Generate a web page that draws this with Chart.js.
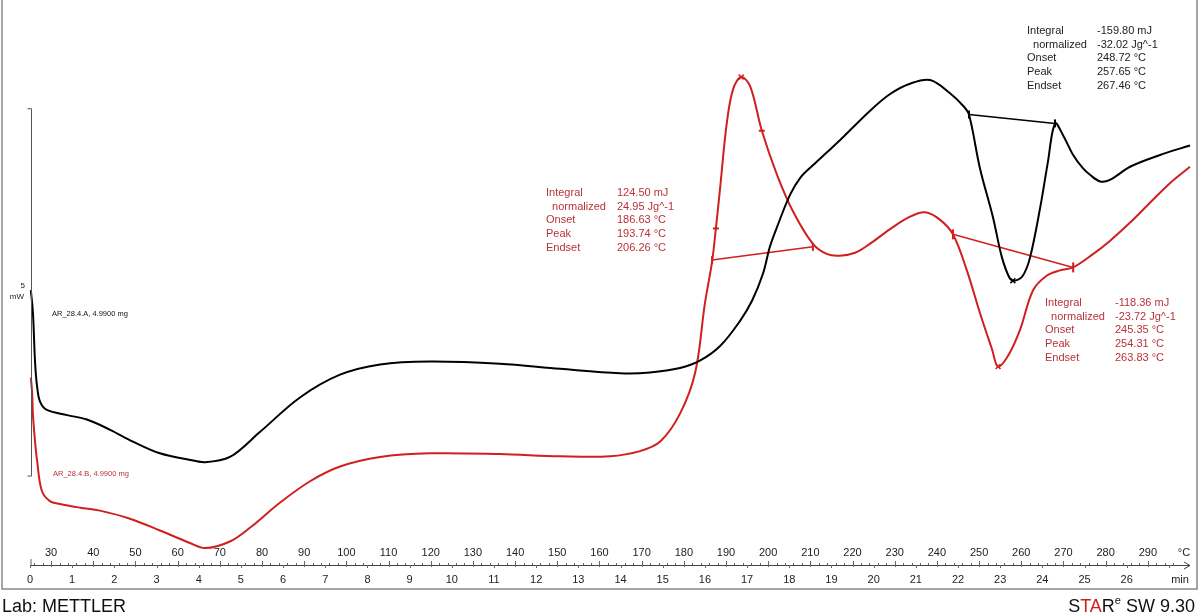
<!DOCTYPE html>
<html>
<head>
<meta charset="utf-8">
<title>DSC AR_28.4</title>
<script src="https://cdn.jsdelivr.net/npm/chart.js@4.4.1/dist/chart.umd.min.js"></script>
<style>
  html, body { margin: 0; padding: 0; background: #fff; }
  canvas { display: block; }
</style>
</head>
<body>
<canvas id="dsc" width="1200" height="616"></canvas>
<script>
// temperature (°C) and heat flow (mW, arbitrary offset)
var blackT = [25.2, 25.7, 26.2, 26.7, 27.4, 29.0, 33.8, 38.5, 44.0, 49.4, 55.8, 62.2, 66.5, 72.4, 79.5, 89.0, 98.5, 108.0, 119.8, 136.4,
  150.7, 164.9, 172.0, 179.1, 183.8, 188.6, 193.3, 196.2, 198.8, 200.4, 202.1, 205.2, 207.6, 210.6, 214.0, 217.0, 224.1, 228.9, 233.6, 238.4,
  243.1, 246.2, 247.6, 250.2, 253.3, 255.4, 257.3, 258.5, 260.4, 262.1, 264.5, 266.3, 268.0, 269.9, 272.3, 274.6, 276.3, 278.7, 281.0, 285.8,
  292.9, 300.0];
var blackMW = [3.74, 3.43, 2.76, 2.42, 2.22, 2.11, 2.04, 1.98, 1.84, 1.68, 1.52, 1.44, 1.40, 1.47, 1.81, 2.28, 2.59, 2.73, 2.77, 2.74,
  2.67, 2.61, 2.62, 2.68, 2.78, 2.98, 3.32, 3.60, 3.97, 4.33, 4.60, 5.04, 5.27, 5.44, 5.62, 5.78, 6.18, 6.41, 6.55, 6.60,
  6.42, 6.25, 6.13, 5.40, 4.73, 4.19, 3.90, 3.87, 3.94, 4.19, 4.87, 5.48, 6.01, 5.85, 5.58, 5.40, 5.31, 5.22, 5.24, 5.42,
  5.58, 5.71];

var redT = [25.2, 25.5, 25.7, 26.2, 26.7, 27.8, 29.7, 32.1, 36.9, 41.6, 48.7, 55.8, 62.9, 66.5, 72.4, 77.2, 84.3, 91.4, 98.5, 108.0,
  119.8, 136.4, 150.7, 162.5, 169.6, 174.4, 179.1, 182.7, 185.0, 186.7, 187.6, 188.6, 190.2, 191.7, 193.6, 195.7, 198.5, 202.1, 205.9, 210.6,
  214.0, 217.0, 220.6, 224.1, 228.9, 233.6, 237.2, 240.7, 243.8, 247.1, 250.2, 253.1, 254.5, 256.9, 259.7, 262.8, 266.1, 269.2, 272.3, 277.0,
  281.0, 285.8, 290.5, 295.3, 300.0];
var redMW = [2.55, 2.35, 2.04, 1.68, 1.41, 1.01, 0.87, 0.83, 0.78, 0.74, 0.63, 0.47, 0.30, 0.23, 0.32, 0.51, 0.85, 1.14, 1.34, 1.47,
  1.52, 1.51, 1.48, 1.48, 1.55, 1.68, 2.06, 2.62, 3.56, 4.13, 4.58, 5.13, 6.02, 6.48, 6.64, 6.52, 5.91, 5.31, 4.81, 4.37,
  4.23, 4.21, 4.25, 4.37, 4.57, 4.74, 4.80, 4.70, 4.50, 4.01, 3.43, 2.93, 2.70, 2.85, 3.20, 3.74, 3.94, 4.01, 4.05, 4.23,
  4.41, 4.66, 4.93, 5.20, 5.42];

// integration baselines (limits) and peak marks
var blackBaseT = [247.6, 268.0], blackBaseMW = [6.13, 6.01];
var redBase1T = [186.7, 210.6], redBase1MW = [4.15, 4.33];
var redBase2T = [243.8, 272.3], redBase2MW = [4.50, 4.05];
var blackPeakT = [258.0], blackPeakMW = [3.87];
var redPeakT = [193.6, 254.5], redPeakMW = [6.64, 2.70];
var redMarkT = [187.6, 198.5], redMarkMW = [4.58, 5.91];

// axis ticks
var tempTicks = [30, 40, 50, 60, 70, 80, 90, 100, 110, 120, 130, 140, 150, 160, 170, 180, 190, 200, 210, 220, 230, 240, 250, 260, 270, 280, 290];
var minTicks = [0, 1, 2, 3, 4, 5, 6, 7, 8, 9, 10, 11, 12, 13, 14, 15, 16, 17, 18, 19, 20, 21, 22, 23, 24, 25, 26];
var startTemp = 25, rate = 10; // °C at 0 min, K/min

// scale bar
var scaleBarTop = 6.21, scaleBarMW = 5;

// result boxes
var resLabels = ['Integral', '  normalized', 'Onset', 'Peak', 'Endset'];
var redRes1 = ['124.50 mJ', '24.95 Jg^-1', '186.63 °C', '193.74 °C', '206.26 °C'];
var redRes2 = ['-118.36 mJ', '-23.72 Jg^-1', '245.35 °C', '254.31 °C', '263.83 °C'];
var blackRes = ['-159.80 mJ', '-32.02 Jg^-1', '248.72 °C', '257.65 °C', '267.46 °C'];

var RED = '#d01f1f', RED_TXT = '#b8323a';

function pts(xs, ys) {
  return xs.map(function (v, i) { return { x: v, y: ys[i] }; });
}

var decor = {
  id: 'decor',
  beforeDraw: function (chart) {
    var ctx = chart.ctx;
    ctx.save();
    ctx.fillStyle = '#fff';
    ctx.fillRect(0, 0, chart.width, chart.height);
    ctx.restore();
  },
  afterDraw: function (chart) {
    var ctx = chart.ctx, sx = chart.scales.x, sy = chart.scales.y;
    var axisY = chart.chartArea.bottom;
    var x0 = sx.getPixelForValue(sx.min), x1 = sx.getPixelForValue(sx.max);
    ctx.save();

    // ruler
    ctx.strokeStyle = '#444';
    ctx.lineWidth = 1;
    ctx.beginPath();
    ctx.moveTo(x0, axisY + 0.5);
    ctx.lineTo(x1, axisY + 0.5);
    ctx.stroke();
    ctx.beginPath();
    ctx.moveTo(x1 - 6, axisY - 3);
    ctx.lineTo(x1, axisY + 0.5);
    ctx.lineTo(x1 - 6, axisY + 4);
    ctx.stroke();
    ctx.strokeStyle = '#666';
    ctx.beginPath();
    for (var t = 26; t < sx.max - 2; t += 2) {
      var px = Math.round(sx.getPixelForValue(t)) + 0.5;
      var up = (t % 10 === 0) ? 4 : 2;
      ctx.moveTo(px, axisY);
      ctx.lineTo(px, axisY - up);
    }
    for (var m = 0; m * rate + startTemp < sx.max - 2; m += 0.5) {
      var pm = Math.round(sx.getPixelForValue(startTemp + m * rate)) + 0.5;
      var dn = (m % 1 === 0) ? 3 : 2;
      ctx.moveTo(pm, axisY);
      ctx.lineTo(pm, axisY + dn);
    }
    ctx.moveTo(x0 + 1, axisY);
    ctx.lineTo(x0 + 1, axisY - 6);
    ctx.stroke();

    ctx.fillStyle = '#222';
    ctx.font = '11px "Liberation Sans", Arial, sans-serif';
    ctx.textAlign = 'center';
    ctx.textBaseline = 'middle';
    tempTicks.forEach(function (v) {
      ctx.fillText(String(v), sx.getPixelForValue(v), axisY - 12);
    });
    minTicks.forEach(function (v) {
      ctx.fillText(String(v), sx.getPixelForValue(startTemp + v * rate), axisY + 15);
    });
    ctx.fillText('°C', 1184, axisY - 12);
    ctx.fillText('min', 1180, axisY + 15);

    // scale bar
    var bx = Math.round(sx.getPixelForValue(sx.min)) + 1.5;
    var bTop = sy.getPixelForValue(scaleBarTop), bBot = sy.getPixelForValue(scaleBarTop - scaleBarMW);
    ctx.strokeStyle = '#555';
    ctx.beginPath();
    ctx.moveTo(bx - 4, bTop);
    ctx.lineTo(bx, bTop);
    ctx.lineTo(bx, bBot);
    ctx.lineTo(bx - 4, bBot);
    ctx.stroke();
    ctx.font = '8px "Liberation Sans", Arial, sans-serif';
    ctx.textAlign = 'right';
    ctx.fillStyle = '#222';
    ctx.fillText(String(scaleBarMW), 25, (bTop + bBot) / 2 - 7);
    ctx.fillText('mW', 24, (bTop + bBot) / 2 + 4);

    // sample names
    ctx.textAlign = 'left';
    ctx.font = '7.5px "Liberation Sans", Arial, sans-serif';
    ctx.fillStyle = '#111';
    ctx.fillText('AR_28.4.A, 4.9900 mg', 52, 314);
    ctx.fillStyle = RED_TXT;
    ctx.fillText('AR_28.4.B, 4.9900 mg', 53, 474);

    // result boxes
    ctx.font = '11px "Liberation Sans", Arial, sans-serif';
    function box(vals, lx, vx, top, color) {
      ctx.fillStyle = color;
      resLabels.forEach(function (l, i) {
        ctx.fillText(l, lx, top + i * 13.7);
        ctx.fillText(vals[i], vx, top + i * 13.7);
      });
    }
    box(redRes1, 546, 617, 193, RED_TXT);
    box(blackRes, 1027, 1097, 31, '#222');
    box(redRes2, 1045, 1115, 303, RED_TXT);

    // frame
    ctx.strokeStyle = '#888';
    ctx.lineWidth = 1.5;
    ctx.beginPath();
    ctx.moveTo(2, 0);
    ctx.lineTo(2, 589);
    ctx.lineTo(1197, 589);
    ctx.lineTo(1197, 0);
    ctx.stroke();

    // footer
    ctx.textBaseline = 'alphabetic';
    ctx.font = '18px "Liberation Sans", Arial, sans-serif';
    ctx.fillStyle = '#111';
    ctx.textAlign = 'left';
    ctx.fillText('Lab: METTLER', 2, 612);
    var parts = [['S', '#111', 18], ['TA', RED, 18], ['R', '#111', 18], ['e', '#111', 11], [' SW 9.30', '#111', 18]];
    var total = 0;
    parts.forEach(function (p) {
      ctx.font = p[2] + 'px "Liberation Sans", Arial, sans-serif';
      total += ctx.measureText(p[0]).width;
    });
    var cx = 1195 - total;
    parts.forEach(function (p) {
      ctx.font = p[2] + 'px "Liberation Sans", Arial, sans-serif';
      ctx.fillStyle = p[1];
      ctx.fillText(p[0], cx, p[2] < 18 ? 604 : 612);
      cx += ctx.measureText(p[0]).width;
    });
    ctx.restore();
  }
};

var ctx = document.getElementById('dsc').getContext('2d');
var lineOpts = { pointRadius: 0, borderWidth: 2, tension: 0.35, fill: false };

new Chart(ctx, {
  type: 'line',
  data: {
    datasets: [
      Object.assign({ label: 'AR_28.4.A', data: pts(blackT, blackMW), borderColor: '#000' }, lineOpts),
      Object.assign({ label: 'AR_28.4.B', data: pts(redT, redMW), borderColor: RED }, lineOpts),
      { label: 'base A', data: pts(blackBaseT, blackBaseMW), borderColor: '#000', borderWidth: 1.5,
        pointStyle: 'line', rotation: 90, pointRadius: 4, pointBorderWidth: 2, pointBorderColor: '#000' },
      { label: 'base B1', data: pts(redBase1T, redBase1MW), borderColor: RED, borderWidth: 1.5,
        pointStyle: 'line', rotation: 90, pointRadius: 4, pointBorderWidth: 2, pointBorderColor: RED },
      { label: 'base B2', data: pts(redBase2T, redBase2MW), borderColor: RED, borderWidth: 1.5,
        pointStyle: 'line', rotation: 90, pointRadius: 5, pointBorderWidth: 2, pointBorderColor: RED },
      { label: 'peak A', data: pts(blackPeakT, blackPeakMW), showLine: false,
        pointStyle: 'crossRot', pointRadius: 3.5, pointBorderWidth: 1.5, pointBorderColor: '#000' },
      { label: 'peak B', data: pts(redPeakT, redPeakMW), showLine: false,
        pointStyle: 'crossRot', pointRadius: 3.5, pointBorderWidth: 1.5, pointBorderColor: RED },
      { label: 'mark B', data: pts(redMarkT, redMarkMW), showLine: false,
        pointStyle: 'line', pointRadius: 3, pointBorderWidth: 2, pointBorderColor: RED }
    ]
  },
  options: {
    responsive: false,
    animation: false,
    devicePixelRatio: 1,
    clip: false,
    layout: { padding: { left: 30, right: 10, top: 0, bottom: 51 } },
    plugins: { legend: { display: false }, tooltip: { enabled: false } },
    scales: {
      x: { type: 'linear', min: 25, max: 300, display: false },
      y: { type: 'linear', min: 0, max: 7.594, display: false }
    }
  },
  plugins: [decor]
});
</script>
</body>
</html>
